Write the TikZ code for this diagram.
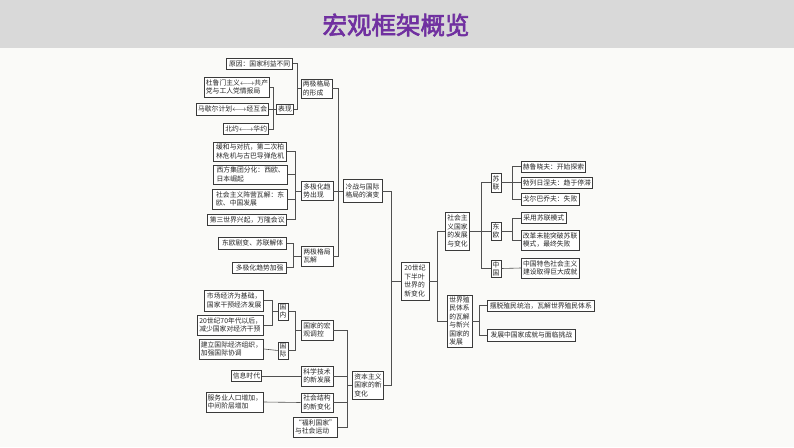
\documentclass[tikz,border=0pt]{standalone}
\usepackage{fontspec}
\setmainfont{Noto Sans CJK SC}
\newfontfamily\titlefont[FakeBold=2.5]{Noto Sans CJK SC}
\usetikzlibrary{shadows}
\definecolor{bandgray}{HTML}{D9D9D9}
\definecolor{titlepurple}{HTML}{7030A0}
\definecolor{boxline}{HTML}{3A3A3A}
\definecolor{linkgray}{HTML}{505050}
\definecolor{paper}{HTML}{FAFAF8}
\begin{document}
\begin{tikzpicture}[x=1pt,y=-1pt,
  bx/.style 2 args={draw=boxline, line width=0.65pt, fill=white,
    minimum width=#1pt, minimum height=#2pt, inner xsep=1.6pt, inner ysep=0.8pt,
    align=left, font=\fontsize{6.8}{8.5}\selectfont, text=black!85,
    drop shadow={shadow xshift=0.7pt, shadow yshift=-0.7pt, fill=black!35, opacity=0.8}},
  vbx/.style={bx={10}{17}, align=center, inner xsep=1pt, font=\fontsize{6.8}{8}\selectfont},
  ln/.style={draw=linkgray, line width=0.6pt}]
\useasboundingbox (0,0) rectangle (794,447);
\fill[paper] (0,0) rectangle (794,447);
\fill[bandgray] (0,0) rectangle (794,48);
\node[font=\titlefont\fontsize{24.5}{26}\selectfont, text=titlepurple] (title) at (396,25) {宏观框架概览};

% bracket x positions
\coordinate (b1) at (273,0);
\coordinate (b2) at (297,0);
\coordinate (b3) at (295,0);
\coordinate (b4) at (293,0);
\coordinate (b5) at (338,0);
\coordinate (b6) at (391,0);
\coordinate (b7) at (272,0);
\coordinate (b8) at (295,0);
\coordinate (b9) at (347,0);
\coordinate (b10) at (437,0);
\coordinate (b11) at (481,0);
\coordinate (b12) at (512,0);
\coordinate (b14) at (479,0);

% --- 两极格局的形成
\node[bx={66}{11}, anchor=east] (yy) at (293,63.5) {原因：国家利益不同};
\node[bx={64}{20}, anchor=east] (td) at (270,87) {杜鲁门主义$\longleftrightarrow$共产\\党与工人党情报局};
\node[bx={69}{12}, anchor=east] (mx) at (269,109) {马歇尔计划$\longleftrightarrow$经互会};
\node[bx={44}{11}, anchor=east] (by) at (269,129) {北约$\longleftrightarrow$华约};
\node[bx={16}{10}, align=center] (bxian) at (285,109) {表现};
\node[bx={31}{19}] (lj1) at (316.5,88.5) {两极格局\\的形成};

% --- 多极化趋势出现
\node[bx={73}{19}, anchor=east] (hh) at (287,151.5) {缓和与对抗，第二次柏\\林危机与古巴导弹危机};
\node[bx={74}{19}, anchor=east] (xf) at (288,174.5) {西方集团分化：西欧、\\日本崛起};
\node[bx={75}{20}, anchor=east] (sh) at (288,199) {社会主义阵营瓦解：东\\欧、中国发展};
\node[bx={79}{11}, anchor=east] (ds) at (287,219.5) {第三世界兴起，万隆会议};
\node[bx={32}{19}] (dj) at (317,191) {多极化趋\\势出现};

% --- 两极格局瓦解
\node[bx={68}{12}, anchor=east] (dd) at (287,243) {东欧剧变、苏联解体};
\node[bx={54}{11}, anchor=east] (dq) at (287,267.5) {多极化趋势加强};
\node[bx={32}{20}] (wj) at (317,256) {两极格局\\瓦解};

% --- 冷战与国际格局的演变
\node[bx={39}{23}] (lz) at (362.5,191) {冷战与国际\\格局的演变};

% --- centre
\node[bx={28}{38}] (cz) at (415,281) {20世纪\\下半叶\\世界的\\新变化};

% --- 资本主义国家的新变化
\node[bx={30}{28}] (zb) at (368,385) {资本主义\\国家的新\\变化};
\node[bx={32}{20}] (hg) at (317,330) {国家的宏\\观调控};
\node[bx={32}{20}] (kj) at (317,376) {科学技术\\的新发展};
\node[bx={32}{19}] (sj) at (317,402.5) {社会结构\\的新变化};
\node[bx={43}{20}] (fl) at (315.5,427) {“福利国家”\\与社会运动};
\node[vbx] (gn) at (283,311.5) {国\\内};
\node[vbx] (gj) at (283,350.5) {国\\际};
\node[bx={59}{21}, anchor=east] (sc) at (264,300.5) {市场经济为基础，\\国家干预经济发展};
\node[bx={66}{20}, anchor=east] (ew) at (264,325) {20世纪70年代以后，\\减少国家对经济干预};
\node[bx={61}{20}, anchor=east] (gz) at (264,349) {建立国际经济组织，\\加强国际协调};
\node[bx={29}{11}, anchor=east] (xx) at (262,376) {信息时代};
\node[bx={55}{20}, anchor=east] (fw) at (264,402) {服务业人口增加，\\中间阶层增加};

% --- right side
\node[bx={23}{38}] (sz) at (457.5,231) {社会主\\义国家\\的发展\\与变化};
\node[bx={25}{52}] (zm) at (459.5,321) {世界殖\\民体系\\的瓦解\\与新兴\\国家的\\发展};
\node[vbx, minimum height=19pt] (su) at (496,182.5) {苏\\联};
\node[vbx, minimum height=18pt] (de) at (496,231) {东\\欧};
\node[vbx] (zg) at (496,268.5) {中\\国};
\node[bx={64}{11}, anchor=west] (hl) at (521,166.5) {赫鲁晓夫：开始探索};
\node[bx={69}{11}, anchor=west] (bl) at (521,182.5) {勃列日涅夫：趋于停滞};
\node[bx={56}{12}, anchor=west] (ge) at (521,199) {戈尔巴乔夫：失败};
\node[bx={45}{11}, anchor=west] (cy) at (521,218) {采用苏联模式};
\node[bx={57}{20}, anchor=west] (gg) at (521,240) {改革未能突破苏联\\模式，最终失败};
\node[bx={58}{20}, anchor=west] (ts) at (521,268) {中国特色社会主义\\建设取得巨大成就};
\node[bx={107}{11}, anchor=west] (bt) at (487,305.5) {摆脱殖民统治，瓦解世界殖民体系};
\node[bx={88}{12}, anchor=west] (fz) at (487,335) {发展中国家成就与面临挑战};

% ===== connectors
% 表现
\draw[ln] (td.east) -- (td.east -| b1) -- (by.east -| b1) -- (by.east);
\draw[ln] (mx.east) -- (bxian.west);
% 两极格局的形成
\draw[ln] (yy.east) -- (yy.east -| b2) -- (bxian.east -| b2) -- (bxian.east);
\draw[ln] (b2 |- lj1.west) -- (lj1.west);
% 多极化趋势出现
\draw[ln] (hh.east) -- (hh.east -| b3) -- (ds.east -| b3) -- (ds.east);
\draw[ln] (xf.east) -- (xf.east -| b3);
\draw[ln] (sh.east) -- (sh.east -| b3);
\draw[ln] (b3 |- dj.west) -- (dj.west);
% 两极格局瓦解
\draw[ln] (dd.east) -- (dd.east -| b4) -- (dq.east -| b4) -- (dq.east);
\draw[ln] (b4 |- wj.west) -- (wj.west);
% 冷战与国际格局的演变
\draw[ln] (lj1.east) -- (lj1.east -| b5) -- (wj.east -| b5) -- (wj.east);
\draw[ln] (dj.east) -- (lz.west);
% main trunk
\draw[ln] (lz.east) -- (lz.east -| b6) -- (zb.east -| b6) -- (zb.east);
\draw[ln] (b6 |- cz.west) -- (cz.west);
% 国内
\draw[ln] (sc.east) -- (sc.east -| b7) -- (ew.east -| b7) -- (ew.east);
\draw[ln] (b7 |- gn.west) -- (gn.west);
\draw[ln] (gz.east) -- (gj.west);
% 国家的宏观调控
\draw[ln] (gn.east) -- (gn.east -| b8) -- (gj.east -| b8) -- (gj.east);
\draw[ln] (b8 |- hg.west) -- (hg.west);
% 资本主义国家的新变化
\draw[ln] (hg.east) -- (hg.east -| b9) -- (fl.east -| b9) -- (fl.east);
\draw[ln] (kj.east) -- (kj.east -| b9);
\draw[ln] (sj.east) -- (sj.east -| b9);
\draw[ln] (b9 |- zb.west) -- (zb.west);
\draw[ln] (xx.east) -- (kj.west);
\draw[ln] (fw.east) -- (sj.west);
% right of centre
\draw[ln] (cz.east) -- (cz.east -| b10);
\draw[ln] (sz.west) -- (sz.west -| b10) -- (zm.west -| b10) -- (zm.west);
% 社会主义国家
\draw[ln] (su.west) -- (su.west -| b11) -- (zg.west -| b11) -- (zg.west);
\draw[ln] (sz.east) -- (de.west);
% 苏联
\draw[ln] (hl.west) -- (hl.west -| b12) -- (ge.west -| b12) -- (ge.west);
\draw[ln] (su.east) -- (bl.west);
% 东欧
\draw[ln] (cy.west) -- (cy.west -| b12) -- (gg.west -| b12) -- (gg.west);
\draw[ln] (de.east) -- (de.east -| b12);
% 中国
\draw[ln] (zg.east) -- (ts.west);
% 殖民体系
\draw[ln] (bt.west) -- (bt.west -| b14) -- (fz.west -| b14) -- (fz.west);
\draw[ln] (zm.east) -- (zm.east -| b14);
\end{tikzpicture}
\end{document}
